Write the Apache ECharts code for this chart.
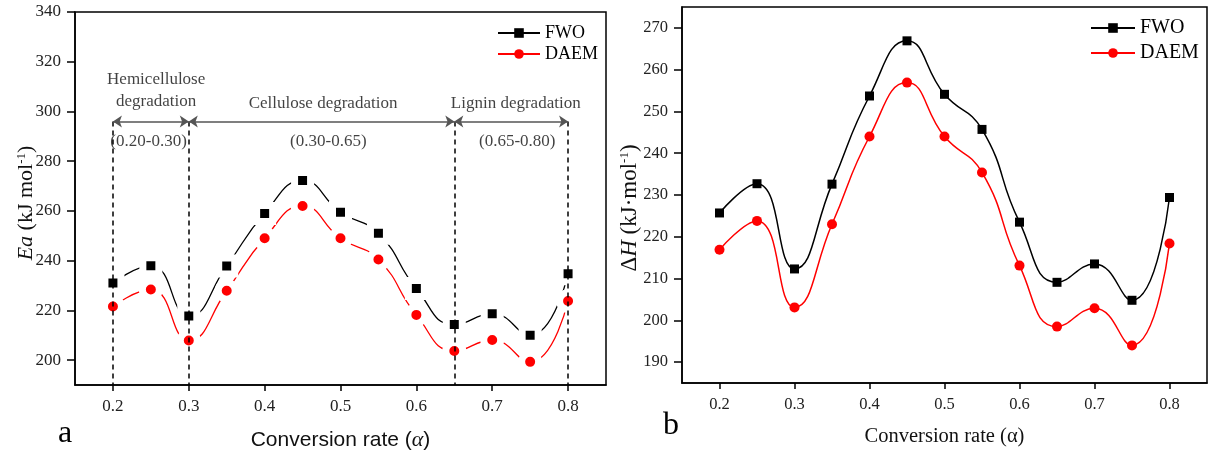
<!DOCTYPE html>
<html>
<head>
<meta charset="utf-8">
<script src="https://cdn.jsdelivr.net/npm/echarts@6/dist/echarts.min.js"></script>
<style>
html,body{margin:0;padding:0;background:#fff;}
#chart{width:1214px;height:456px;}
</style>
</head>
<body>
<div id="chart"></div>
<script>
// ---- data ----
const conversion = [0.20, 0.25, 0.30, 0.35, 0.40, 0.45, 0.50, 0.55, 0.60, 0.65, 0.70, 0.75, 0.80];
const eaFWO  = [231.0, 238.0, 217.7, 237.9, 259.0, 272.2, 259.5, 251.0, 228.8, 214.3, 218.7, 210.0, 234.7];
const eaDAEM = [221.6, 228.4, 207.9, 227.9, 249.0, 262.0, 249.0, 240.5, 218.2, 203.7, 208.1, 199.3, 223.8];
const dhFWO  = [225.7, 232.7, 212.3, 232.6, 253.7, 266.9, 254.1, 245.7, 223.5, 209.1, 213.5, 204.8, 229.4];
const dhDAEM = [216.9, 223.8, 203.1, 223.0, 244.0, 256.9, 244.0, 235.4, 213.1, 198.5, 202.9, 194.0, 218.4];

const xTicks = [0.2, 0.3, 0.4, 0.5, 0.6, 0.7, 0.8];
const eaTicks = [200, 220, 240, 260, 280, 300, 320, 340];
const dhTicks = [190, 200, 210, 220, 230, 240, 250, 260, 270];

const stageBounds = [0.20, 0.30, 0.65, 0.80];
const arrowLevel = 296;
const annoTexts = ['Hemicellulose', 'degradation', 'Cellulose degradation', 'Lignin degradation', '(0.20-0.30)', '(0.30-0.65)', '(0.65-0.80)'];
const annoX = [0.257, 0.257, 0.477, 0.731, 0.247, 0.484, 0.733];
const annoY = [313.0, 303.8, 303.0, 303.0, 288.1, 288.1, 288.1];

// ---- build ----
const SERIF = "'Liberation Serif','Times New Roman',serif";
const SANS = "'Liberation Sans',Arial,sans-serif";
const pair = (xs, ys) => xs.map((x, i) => [x, ys[i]]);

function xAxisCfg(gridIndex, fs, nameText, nameStyle, gap) {
  return {
    type: 'value', gridIndex, min: 0.15, max: 0.85,
    axisLine: {show: true, lineStyle: {color: '#000', width: 1.5}},
    axisTick: {show: true, inside: false, length: 6, lineStyle: {color: '#000', width: 1.5}, customValues: xTicks},
    axisLabel: {customValues: xTicks, fontFamily: SERIF, fontSize: fs, color: '#222', margin: 13},
    splitLine: {show: false},
    name: nameText, nameLocation: 'middle', nameGap: gap, nameTextStyle: nameStyle
  };
}
function yAxisCfg(gridIndex, min, max, ticks, fs) {
  return {
    type: 'value', gridIndex, min, max,
    axisLine: {show: true, lineStyle: {color: '#000', width: 1.5}},
    axisTick: {show: true, inside: false, length: 8, lineStyle: {color: '#000', width: 1.5}, customValues: ticks},
    axisLabel: {customValues: ticks, fontFamily: SERIF, fontSize: fs, color: '#222', margin: 14},
    splitLine: {show: false}
  };
}

const markLineData = [];
stageBounds.forEach(b => {
  markLineData.push([
    {coord: [b, arrowLevel], symbol: 'none'},
    {coord: [b, 190], symbol: 'none', lineStyle: {color: '#000', type: [5, 4], width: 1.5}}
  ]);
});
for (let i = 0; i < stageBounds.length - 1; i++) {
  markLineData.push([
    {coord: [stageBounds[i], arrowLevel], symbol: 'arrow', symbolSize: 9},
    {coord: [stageBounds[i + 1], arrowLevel], symbol: 'arrow', symbolSize: 9, lineStyle: {color: '#555', type: 'solid', width: 1.5}}
  ]);
}

const option = {
  backgroundColor: '#fff',
  animation: false,
  grid: [
    {left: 75, top: 12, right: 608, bottom: 70, show: true, borderColor: '#000', borderWidth: 1.5, backgroundColor: 'transparent'},
    {left: 682, top: 7, right: 7, bottom: 73, show: true, borderColor: '#000', borderWidth: 1.5, backgroundColor: 'transparent'}
  ],
  xAxis: [
    xAxisCfg(0, 17, 'Conversion rate ({i|α})', {fontFamily: SANS, fontSize: 21, color: '#111', rich: {i: {fontFamily: SERIF, fontStyle: 'italic', fontSize: 22, color: '#111'}}}, 44),
    xAxisCfg(1, 16.5, 'Conversion rate (α)', {fontFamily: SERIF, fontSize: 20.5, color: '#111'}, 43)
  ],
  yAxis: [
    yAxisCfg(0, 190, 340, eaTicks, 17),
    yAxisCfg(1, 185, 275, dhTicks, 16.5)
  ],
  legend: [
    {orient: 'vertical', left: 497, top: 24, padding: 0, itemWidth: 42, itemHeight: 12, itemGap: 3,
     data: ['FWO', 'DAEM'], itemStyle: {borderWidth: 0},
     textStyle: {fontFamily: SERIF, fontSize: 18, color: '#000'}},
    {orient: 'vertical', left: 1090, top: 18, padding: 0, itemWidth: 44, itemHeight: 12, itemGap: 5,
     data: ['FWO', 'DAEM'], itemStyle: {borderWidth: 0},
     textStyle: {fontFamily: SERIF, fontSize: 20, color: '#000'}}
  ],
  graphic: [
    {type: 'text', x: 26, y: 203, rotation: Math.PI / 2,
     style: {text: '{i|Ea} (kJ mol{s|-1})', align: 'center', verticalAlign: 'middle',
       font: '22px ' + SERIF, fill: '#111',
       rich: {i: {fontStyle: 'italic', fontSize: 22, fontFamily: SERIF, fill: '#111'},
              s: {fontSize: 13, fontFamily: SERIF, verticalAlign: 'top', fill: '#111'}}}},
    {type: 'text', x: 630, y: 208, rotation: Math.PI / 2,
     style: {text: 'Δ{i|H} (kJ·mol{s|-1})', align: 'center', verticalAlign: 'middle',
       font: '23px ' + SERIF, fill: '#111',
       rich: {i: {fontStyle: 'italic', fontSize: 23, fontFamily: SERIF, fill: '#111'},
              s: {fontSize: 13, fontFamily: SERIF, verticalAlign: 'top', fill: '#111'}}}},
    {type: 'text', x: 65, y: 434, style: {text: 'a', align: 'center', verticalAlign: 'middle', font: '32px ' + SERIF, fill: '#000'}},
    {type: 'text', x: 671, y: 426, style: {text: 'b', align: 'center', verticalAlign: 'middle', font: '32px ' + SERIF, fill: '#000'}}
  ],
  series: [
    {name: 'FWO', type: 'line', xAxisIndex: 0, yAxisIndex: 0, data: pair(conversion, eaFWO), smooth: 0.5,
     symbol: 'rect', symbolSize: 16, lineStyle: {color: '#000', width: 1.3},
     itemStyle: {color: '#000', borderColor: '#fff', borderWidth: 7}, z: 2},
    {name: 'DAEM', type: 'line', xAxisIndex: 0, yAxisIndex: 0, data: pair(conversion, eaDAEM), smooth: 0.5,
     symbol: 'circle', symbolSize: 17, lineStyle: {color: '#f00', width: 1.3},
     itemStyle: {color: '#f00', borderColor: '#fff', borderWidth: 7}, z: 2},
    {name: 'FWO', type: 'line', xAxisIndex: 1, yAxisIndex: 1, data: pair(conversion, dhFWO), smooth: 0.5,
     symbol: 'rect', symbolSize: 9, lineStyle: {color: '#000', width: 1.5},
     itemStyle: {color: '#000'}, z: 2},
    {name: 'DAEM', type: 'line', xAxisIndex: 1, yAxisIndex: 1, data: pair(conversion, dhDAEM), smooth: 0.5,
     symbol: 'circle', symbolSize: 10, lineStyle: {color: '#f00', width: 1.5},
     itemStyle: {color: '#f00'}, z: 2},
    {name: 'annotations', type: 'scatter', xAxisIndex: 0, yAxisIndex: 0, z: 4, silent: true,
     symbolSize: 0,
     data: annoTexts.map((t, i) => [annoX[i], annoY[i], t]),
     label: {show: true, position: 'inside', formatter: p => p.value[2],
       fontFamily: SERIF, fontSize: 17, color: '#111'},
     markLine: {silent: true, animation: false, symbol: ['none', 'none'], label: {show: false},
       lineStyle: {color: '#000', type: [5, 4], width: 1.5}, emphasis: {disabled: true},
       data: markLineData}}
  ]
};

const chart = echarts.init(document.getElementById('chart'), null, {renderer: 'canvas'});
chart.setOption(option);
</script>
</body>
</html>
